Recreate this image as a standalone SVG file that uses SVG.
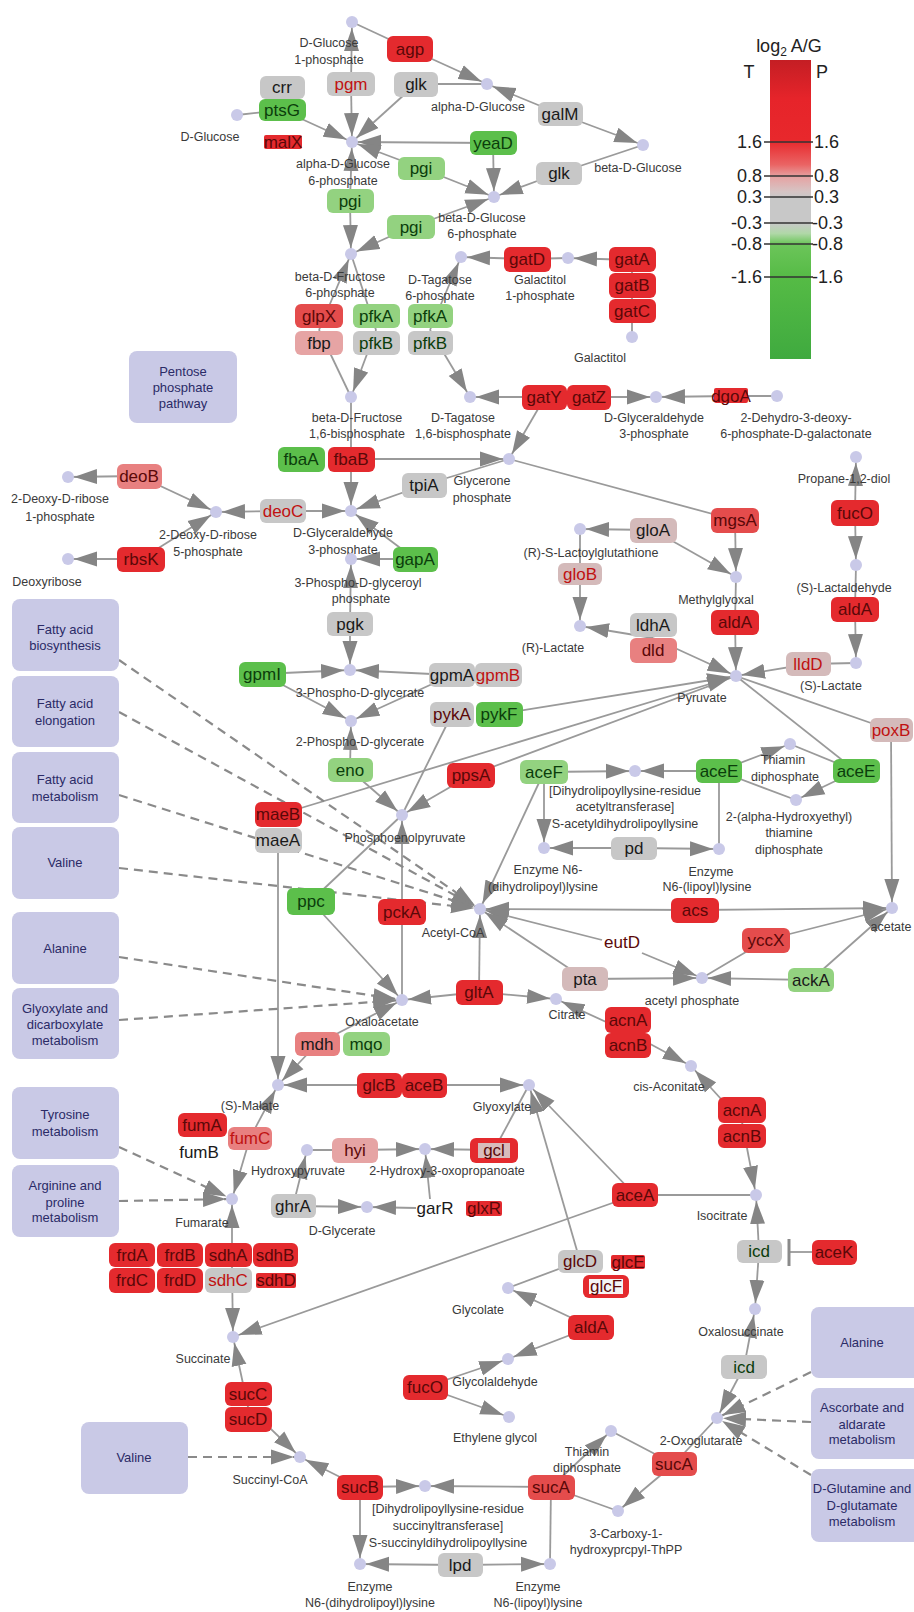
<svg xmlns="http://www.w3.org/2000/svg" width="914" height="1612" viewBox="0 0 914 1612">
<defs>
<marker id="ah" viewBox="0 0 30 16" refX="29" refY="8" markerWidth="30" markerHeight="16" markerUnits="userSpaceOnUse" orient="auto-start-reverse"><path d="M0,0.5 L23,8 L0,15.5 z" fill="#858585"/></marker>
<linearGradient id="lg" x1="0" y1="0" x2="0" y2="1">
<stop offset="0" stop-color="#c41e24"/><stop offset="0.13" stop-color="#e6242a"/><stop offset="0.27" stop-color="#e8282c"/><stop offset="0.35" stop-color="#ea6464"/><stop offset="0.39" stop-color="#e6a2a2"/><stop offset="0.44" stop-color="#d6c4c4"/><stop offset="0.46" stop-color="#c8c8c8"/><stop offset="0.545" stop-color="#c8c8c8"/><stop offset="0.58" stop-color="#b0d8a8"/><stop offset="0.615" stop-color="#6cc55a"/><stop offset="0.73" stop-color="#55bb45"/><stop offset="1" stop-color="#3faa3f"/>
</linearGradient>
<style>
.ln{stroke:#9a9a9a;stroke-width:1.8;fill:none}
.a{marker-end:url(#ah)}
.dl{stroke:#8a8a8a;stroke-width:2.2;stroke-dasharray:9 6;fill:none}
.dot{fill:#c9c9e8}
.lab{font-family:"Liberation Sans",Arial,sans-serif;font-size:12.5px;fill:#3a3a3a;text-anchor:middle}
.gt{font-family:"Liberation Sans",Arial,sans-serif;font-size:17px;text-anchor:middle}
.pw{fill:#c9c9e6}
.pt{font-family:"Liberation Sans",Arial,sans-serif;font-size:13px;fill:#2b2b66;text-anchor:middle}
.lgt{font-family:"Liberation Sans",Arial,sans-serif;font-size:18px;fill:#222}
.R{fill:#e42a2e}.R2{fill:#e44c4c}.P{fill:#e88080}.LP{fill:#e6a4a4}.GP{fill:#d4baba}.Gy{fill:#c7c7c7}.LG{fill:#93d280}.G{fill:#5cbf4b}
.tR{fill:#5a0808}.tG{fill:#0b3d0b}.tK{fill:#1a1a1a}.tr{fill:#c01212}
</style>
</defs>
<rect width="914" height="1612" fill="#ffffff"/>

<g id="connectors">
<line class="ln a" x1="351" y1="84" x2="352" y2="22"/><line class="ln a" x1="351" y1="84" x2="352" y2="142"/>
<line class="ln" x1="352" y1="22" x2="410" y2="49"/><line class="ln a" x1="410" y1="49" x2="487" y2="84"/>
<line class="ln" x1="487" y1="84" x2="416" y2="84"/><line class="ln a" x1="416" y1="84" x2="352" y2="142"/>
<line class="ln a" x1="560" y1="114" x2="487" y2="84"/><line class="ln a" x1="560" y1="114" x2="643" y2="145"/>
<line class="ln" x1="237" y1="115" x2="282" y2="110"/><line class="ln a" x1="282" y1="110" x2="352" y2="142"/>
<line class="ln a" x1="493" y1="143" x2="352" y2="142"/><line class="ln a" x1="493" y1="143" x2="494" y2="197"/>
<line class="ln a" x1="421" y1="168" x2="352" y2="142"/><line class="ln a" x1="421" y1="168" x2="494" y2="197"/>
<line class="ln" x1="643" y1="145" x2="559" y2="173"/><line class="ln a" x1="559" y1="173" x2="494" y2="197"/>
<line class="ln a" x1="350" y1="201" x2="352" y2="142"/><line class="ln a" x1="350" y1="201" x2="351" y2="254"/>
<line class="ln a" x1="411" y1="227" x2="494" y2="197"/><line class="ln a" x1="411" y1="227" x2="351" y2="254"/>
<line class="ln a" x1="319" y1="330" x2="351" y2="254"/><line class="ln" x1="319" y1="330" x2="351" y2="397"/>
<line class="ln" x1="351" y1="254" x2="376" y2="330"/><line class="ln a" x1="376" y1="330" x2="351" y2="397"/>
<line class="ln a" x1="430" y1="330" x2="461" y2="257"/><line class="ln a" x1="430" y1="330" x2="470" y2="397"/>
<line class="ln" x1="568" y1="258" x2="527" y2="259"/><line class="ln a" x1="527" y1="259" x2="461" y2="257"/>
<line class="ln" x1="632" y1="337" x2="632" y2="260"/><line class="ln a" x1="632" y1="260" x2="568" y2="258"/>
<line class="ln a" x1="566" y1="397" x2="470" y2="397"/><line class="ln a" x1="566" y1="397" x2="656" y2="397"/><line class="ln a" x1="545" y1="397" x2="509" y2="459"/>
<line class="ln" x1="777" y1="396" x2="731" y2="396"/><line class="ln a" x1="731" y1="396" x2="656" y2="397"/>
<line class="ln" x1="351" y1="397" x2="351" y2="459"/><line class="ln a" x1="351" y1="459" x2="351" y2="511"/><line class="ln a" x1="351" y1="459" x2="509" y2="459"/>
<line class="ln" x1="509" y1="459" x2="424" y2="485"/><line class="ln a" x1="424" y1="485" x2="351" y2="511"/>
<line class="ln" x1="509" y1="459" x2="735" y2="520"/><line class="ln a" x1="735" y1="520" x2="736" y2="577"/>
<line class="ln a" x1="283" y1="511" x2="351" y2="511"/><line class="ln a" x1="283" y1="511" x2="216" y2="512"/>
<line class="ln a" x1="139" y1="476" x2="68" y2="477"/><line class="ln a" x1="139" y1="476" x2="216" y2="512"/>
<line class="ln a" x1="141" y1="559" x2="68" y2="559"/><line class="ln a" x1="141" y1="559" x2="216" y2="512"/>
<line class="ln a" x1="415" y1="559" x2="351" y2="511"/><line class="ln a" x1="415" y1="559" x2="351" y2="559"/>
<line class="ln a" x1="350" y1="624" x2="351" y2="559"/><line class="ln a" x1="350" y1="624" x2="350" y2="670"/>
<line class="ln a" x1="262" y1="674" x2="350" y2="670"/><line class="ln a" x1="262" y1="674" x2="351" y2="721"/>
<line class="ln a" x1="452" y1="675" x2="350" y2="670"/><line class="ln a" x1="452" y1="675" x2="351" y2="721"/>
<line class="ln a" x1="350" y1="770" x2="351" y2="721"/><line class="ln a" x1="350" y1="770" x2="402" y2="815"/>
<line class="ln" x1="452" y1="714" x2="402" y2="815"/><line class="ln a" x1="500" y1="714" x2="736" y2="676"/>
<line class="ln" x1="736" y1="676" x2="471" y2="775"/><line class="ln a" x1="471" y1="775" x2="402" y2="815"/>
<line class="ln a" x1="278" y1="815" x2="736" y2="676"/>
<line class="ln a" x1="278" y1="840" x2="278" y2="1085"/>
<line class="ln" x1="402" y1="815" x2="311" y2="901"/><line class="ln a" x1="311" y1="901" x2="402" y2="1000"/>
<line class="ln" x1="402" y1="1000" x2="402" y2="912"/><line class="ln a" x1="402" y1="912" x2="402" y2="815"/>
<line class="ln a" x1="653" y1="530" x2="580" y2="529"/><line class="ln a" x1="653" y1="530" x2="736" y2="577"/>
<line class="ln" x1="580" y1="529" x2="580" y2="574"/><line class="ln a" x1="580" y1="574" x2="580" y2="626"/>
<line class="ln a" x1="653" y1="638" x2="580" y2="626"/><line class="ln a" x1="653" y1="638" x2="736" y2="676"/>
<line class="ln" x1="736" y1="577" x2="735" y2="622"/><line class="ln a" x1="735" y1="622" x2="736" y2="676"/>
<line class="ln a" x1="855" y1="513" x2="856" y2="457"/><line class="ln a" x1="855" y1="513" x2="856" y2="565"/>
<line class="ln" x1="856" y1="565" x2="855" y2="609"/><line class="ln a" x1="855" y1="609" x2="856" y2="663"/>
<line class="ln" x1="856" y1="663" x2="808" y2="664"/><line class="ln a" x1="808" y1="664" x2="736" y2="676"/>
<line class="ln a" x1="544" y1="772" x2="635" y2="771"/><line class="ln a" x1="544" y1="772" x2="544" y2="848"/><line class="ln a" x1="544" y1="772" x2="480" y2="909"/>
<line class="ln a" x1="719" y1="771" x2="635" y2="771"/><line class="ln a" x1="719" y1="771" x2="790" y2="744"/><line class="ln" x1="796" y1="800" x2="719" y2="771"/><line class="ln" x1="719" y1="771" x2="719" y2="849"/>
<line class="ln" x1="736" y1="676" x2="856" y2="771"/><line class="ln" x1="790" y1="744" x2="856" y2="771"/><line class="ln a" x1="856" y1="771" x2="796" y2="800"/>
<line class="ln a" x1="634" y1="848" x2="544" y2="848"/><line class="ln a" x1="634" y1="848" x2="719" y2="849"/>
<line class="ln" x1="736" y1="676" x2="891" y2="730"/><line class="ln a" x1="891" y1="730" x2="892" y2="908"/>
<line class="ln a" x1="695" y1="910" x2="480" y2="909"/><line class="ln a" x1="695" y1="910" x2="892" y2="908"/>
<line class="ln a" x1="602" y1="940" x2="480" y2="909"/><line class="ln a" x1="642" y1="953" x2="702" y2="978"/>
<line class="ln a" x1="585" y1="979" x2="480" y2="909"/><line class="ln a" x1="585" y1="979" x2="702" y2="978"/>
<line class="ln" x1="766" y1="940" x2="702" y2="978"/><line class="ln a" x1="766" y1="940" x2="892" y2="908"/>
<line class="ln a" x1="811" y1="980" x2="702" y2="978"/><line class="ln a" x1="811" y1="980" x2="892" y2="908"/>
<line class="ln a" x1="479" y1="992" x2="402" y2="1000"/><line class="ln a" x1="479" y1="992" x2="556" y2="999"/><line class="ln a" x1="479" y1="992" x2="480" y2="909"/>
<line class="ln a" x1="628" y1="1032" x2="556" y2="999"/><line class="ln a" x1="628" y1="1032" x2="691" y2="1066"/>
<line class="ln a" x1="742" y1="1122" x2="691" y2="1066"/><line class="ln a" x1="742" y1="1122" x2="756" y2="1195"/>
<line class="ln" x1="756" y1="1195" x2="635" y2="1195"/><line class="ln a" x1="635" y1="1195" x2="529" y2="1085"/><line class="ln a" x1="635" y1="1195" x2="233" y2="1337"/>
<line class="ln a" x1="402" y1="1085" x2="529" y2="1085"/><line class="ln a" x1="402" y1="1085" x2="278" y2="1085"/>
<line class="ln a" x1="317" y1="1044" x2="402" y2="1000"/><line class="ln a" x1="317" y1="1044" x2="278" y2="1085"/>
<line class="ln a" x1="250" y1="1138" x2="278" y2="1085"/><line class="ln a" x1="250" y1="1138" x2="232" y2="1199"/>
<line class="ln a" x1="232" y1="1268" x2="232" y2="1199"/><line class="ln a" x1="232" y1="1268" x2="233" y2="1337"/>
<line class="ln a" x1="248" y1="1407" x2="233" y2="1337"/><line class="ln a" x1="248" y1="1407" x2="300" y2="1457"/>
<line class="ln a" x1="360" y1="1487" x2="300" y2="1457"/><line class="ln a" x1="360" y1="1487" x2="425" y2="1486"/><line class="ln a" x1="360" y1="1487" x2="360" y2="1564"/>
<line class="ln a" x1="551" y1="1487" x2="425" y2="1486"/><line class="ln" x1="551" y1="1487" x2="550" y2="1564"/><line class="ln" x1="551" y1="1487" x2="618" y2="1511"/><line class="ln a" x1="551" y1="1487" x2="611" y2="1431"/>
<line class="ln" x1="717" y1="1418" x2="674" y2="1464"/><line class="ln" x1="611" y1="1431" x2="674" y2="1464"/><line class="ln a" x1="674" y1="1464" x2="618" y2="1511"/>
<line class="ln a" x1="460" y1="1565" x2="360" y2="1564"/><line class="ln a" x1="460" y1="1565" x2="550" y2="1564"/>
<line class="ln a" x1="759" y1="1251" x2="756" y2="1195"/><line class="ln a" x1="759" y1="1251" x2="755" y2="1309"/>
<line class="ln" x1="812" y1="1252" x2="789" y2="1252"/><line x1="789" y1="1239" x2="789" y2="1266" stroke="#8a8a8a" stroke-width="3"/>
<line class="ln a" x1="744" y1="1367" x2="755" y2="1309"/><line class="ln a" x1="744" y1="1367" x2="717" y2="1418"/>
<line class="ln" x1="307" y1="1150" x2="355" y2="1150"/><line class="ln a" x1="355" y1="1150" x2="425" y2="1149"/>
<line class="ln" x1="494" y1="1150" x2="529" y2="1085"/><line class="ln a" x1="494" y1="1150" x2="425" y2="1149"/>
<line class="ln a" x1="430" y1="1199" x2="425" y2="1149"/><line class="ln a" x1="416" y1="1208" x2="367" y2="1207"/>
<line class="ln a" x1="293" y1="1206" x2="307" y2="1150"/><line class="ln a" x1="293" y1="1206" x2="367" y2="1207"/>
<line class="ln" x1="508" y1="1288" x2="580" y2="1261"/><line class="ln a" x1="580" y1="1261" x2="529" y2="1085"/>
<line class="ln a" x1="591" y1="1327" x2="508" y2="1288"/><line class="ln a" x1="591" y1="1327" x2="508" y2="1359"/>
<line class="ln a" x1="425" y1="1387" x2="508" y2="1359"/><line class="ln a" x1="425" y1="1387" x2="509" y2="1417"/>
<line class="dl a" x1="119" y1="660" x2="480" y2="909"/>
<line class="dl a" x1="119" y1="712" x2="480" y2="909"/>
<line class="dl a" x1="119" y1="795" x2="480" y2="909"/>
<line class="dl a" x1="119" y1="868" x2="480" y2="909"/>
<line class="dl a" x1="119" y1="957" x2="402" y2="1000"/>
<line class="dl a" x1="119" y1="1020" x2="402" y2="1000"/>
<line class="dl a" x1="119" y1="1147" x2="232" y2="1199"/>
<line class="dl a" x1="119" y1="1201" x2="232" y2="1199"/>
<line class="dl a" x1="188" y1="1457" x2="300" y2="1457"/>
<line class="dl a" x1="811" y1="1372" x2="717" y2="1418"/>
<line class="dl a" x1="811" y1="1422" x2="717" y2="1418"/>
<line class="dl a" x1="811" y1="1475" x2="717" y2="1418"/>
</g>

<g id="legend">
<text class="lgt" x="789" y="52" text-anchor="middle">log<tspan font-size="12" dy="4">2</tspan><tspan dy="-4"> A/G</tspan></text>
<text class="lgt" x="749" y="78" text-anchor="middle">T</text>
<text class="lgt" x="822" y="78" text-anchor="middle">P</text>
<rect x="770" y="60" width="41" height="299" fill="url(#lg)"/>
<g stroke="#333" stroke-width="1.5">
<line x1="764" y1="142" x2="813" y2="142"/><line x1="764" y1="176" x2="813" y2="176"/><line x1="764" y1="197" x2="813" y2="197"/><line x1="764" y1="223" x2="813" y2="223"/><line x1="764" y1="244" x2="813" y2="244"/><line x1="764" y1="277" x2="813" y2="277"/>
</g>
<g class="lgt" text-anchor="end">
<text x="762" y="148">1.6</text><text x="762" y="182">0.8</text><text x="762" y="203">0.3</text><text x="762" y="229">-0.3</text><text x="762" y="250">-0.8</text><text x="762" y="283">-1.6</text>
</g>
<g class="lgt">
<text x="814" y="148">1.6</text><text x="814" y="182">0.8</text><text x="814" y="203">0.3</text><text x="812" y="229">-0.3</text><text x="812" y="250">-0.8</text><text x="812" y="283">-1.6</text>
</g>
</g>

<g id="pathways">
<g id="pw_ppp"><rect class="pw" x="129" y="351" width="108" height="72" rx="8"/><text class="pt" x="183" y="376">Pentose</text><text class="pt" x="183" y="392">phosphate</text><text class="pt" x="183" y="408">pathway</text></g>
<g id="pw_fab"><rect class="pw" x="12" y="599" width="107" height="72" rx="8"/><text class="pt" x="65" y="634">Fatty acid</text><text class="pt" x="65" y="650">biosynthesis</text></g>
<g id="pw_fae"><rect class="pw" x="12" y="676" width="107" height="71" rx="8"/><text class="pt" x="65" y="708">Fatty acid</text><text class="pt" x="65" y="725">elongation</text></g>
<g id="pw_fam"><rect class="pw" x="12" y="752" width="107" height="71" rx="8"/><text class="pt" x="65" y="784">Fatty acid</text><text class="pt" x="65" y="801">metabolism</text></g>
<g id="pw_val"><rect class="pw" x="12" y="827" width="107" height="72" rx="8"/><text class="pt" x="65" y="867">Valine</text></g>
<g id="pw_ala"><rect class="pw" x="12" y="912" width="107" height="72" rx="8"/><text class="pt" x="65" y="953">Alanine</text></g>
<g id="pw_glx"><rect class="pw" x="12" y="988" width="107" height="71" rx="8"/><text class="pt" x="65" y="1013">Glyoxylate and</text><text class="pt" x="65" y="1029">dicarboxylate</text><text class="pt" x="65" y="1045">metabolism</text></g>
<g id="pw_tyr"><rect class="pw" x="12" y="1087" width="107" height="72" rx="8"/><text class="pt" x="65" y="1119">Tyrosine</text><text class="pt" x="65" y="1136">metabolism</text></g>
<g id="pw_arg"><rect class="pw" x="12" y="1165" width="107" height="72" rx="8"/><text class="pt" x="65" y="1190">Arginine and</text><text class="pt" x="65" y="1207">proline</text><text class="pt" x="65" y="1222">metabolism</text></g>
<g id="pw_val2"><rect class="pw" x="81" y="1422" width="107" height="72" rx="8"/><text class="pt" x="134" y="1462">Valine</text></g>
<g id="pw_ala2"><rect class="pw" x="811" y="1307" width="112" height="71" rx="8"/><text class="pt" x="862" y="1347">Alanine</text></g>
<g id="pw_asc"><rect class="pw" x="811" y="1388" width="112" height="71" rx="8"/><text class="pt" x="862" y="1412">Ascorbate and</text><text class="pt" x="862" y="1429">aldarate</text><text class="pt" x="862" y="1444">metabolism</text></g>
<g id="pw_gln"><rect class="pw" x="811" y="1469" width="112" height="73" rx="8"/><text class="pt" x="862" y="1493">D-Glutamine and</text><text class="pt" x="862" y="1510">D-glutamate</text><text class="pt" x="862" y="1526">metabolism</text></g>
</g>

<g id="metabolites">
<g id="m_g1p"><circle class="dot" cx="352" cy="22" r="6"/><text class="lab" x="329" y="47">D-Glucose</text><text class="lab" x="329" y="64">1-phosphate</text></g>
<g id="m_aglc"><circle class="dot" cx="487" cy="84" r="6"/><text class="lab" x="478" y="111">alpha-D-Glucose</text></g>
<g id="m_bglc"><circle class="dot" cx="643" cy="145" r="6"/><text class="lab" x="638" y="172">beta-D-Glucose</text></g>
<g id="m_glc"><circle class="dot" cx="237" cy="115" r="6"/><text class="lab" x="210" y="141">D-Glucose</text></g>
<g id="m_ag6p"><circle class="dot" cx="352" cy="142" r="6"/><text class="lab" x="343" y="168">alpha-D-Glucose</text><text class="lab" x="343" y="185">6-phosphate</text></g>
<g id="m_bg6p"><circle class="dot" cx="494" cy="197" r="6"/><text class="lab" x="482" y="222">beta-D-Glucose</text><text class="lab" x="482" y="238">6-phosphate</text></g>
<g id="m_f6p"><circle class="dot" cx="351" cy="254" r="6"/><text class="lab" x="340" y="281">beta-D-Fructose</text><text class="lab" x="340" y="297">6-phosphate</text></g>
<g id="m_t6p"><circle class="dot" cx="461" cy="257" r="6"/><text class="lab" x="440" y="284">D-Tagatose</text><text class="lab" x="440" y="300">6-phosphate</text></g>
<g id="m_gal1p"><circle class="dot" cx="568" cy="258" r="6"/><text class="lab" x="540" y="284">Galactitol</text><text class="lab" x="540" y="300">1-phosphate</text></g>
<g id="m_galtol"><circle class="dot" cx="632" cy="337" r="6"/><text class="lab" x="600" y="362">Galactitol</text></g>
<g id="m_fbp"><circle class="dot" cx="351" cy="397" r="6"/><text class="lab" x="357" y="422">beta-D-Fructose</text><text class="lab" x="357" y="438">1,6-bisphosphate</text></g>
<g id="m_t16bp"><circle class="dot" cx="470" cy="397" r="6"/><text class="lab" x="463" y="422">D-Tagatose</text><text class="lab" x="463" y="438">1,6-bisphosphate</text></g>
<g id="m_ga3pr"><circle class="dot" cx="656" cy="397" r="6"/><text class="lab" x="654" y="422">D-Glyceraldehyde</text><text class="lab" x="654" y="438">3-phosphate</text></g>
<g id="m_kdpg"><circle class="dot" cx="777" cy="396" r="6"/><text class="lab" x="796" y="422">2-Dehydro-3-deoxy-</text><text class="lab" x="796" y="438">6-phosphate-D-galactonate</text></g>
<g id="m_dhap"><circle class="dot" cx="509" cy="459" r="6"/><text class="lab" x="482" y="485">Glycerone</text><text class="lab" x="482" y="502">phosphate</text></g>
<g id="m_ga3p"><circle class="dot" cx="351" cy="511" r="6"/><text class="lab" x="343" y="537">D-Glyceraldehyde</text><text class="lab" x="343" y="554">3-phosphate</text></g>
<g id="m_dr1p"><circle class="dot" cx="68" cy="477" r="6"/><text class="lab" x="60" y="503">2-Deoxy-D-ribose</text><text class="lab" x="60" y="521">1-phosphate</text></g>
<g id="m_dr5p"><circle class="dot" cx="216" cy="512" r="6"/><text class="lab" x="208" y="539">2-Deoxy-D-ribose</text><text class="lab" x="208" y="556">5-phosphate</text></g>
<g id="m_dr"><circle class="dot" cx="68" cy="559" r="6"/><text class="lab" x="47" y="586">Deoxyribose</text></g>
<g id="m_bpg"><circle class="dot" cx="351" cy="559" r="6"/><text class="lab" x="358" y="587">3-Phospho-D-glyceroyl</text><text class="lab" x="361" y="603">phosphate</text></g>
<g id="m_3pg"><circle class="dot" cx="350" cy="670" r="6"/><text class="lab" x="360" y="697">3-Phospho-D-glycerate</text></g>
<g id="m_2pg"><circle class="dot" cx="351" cy="721" r="6"/><text class="lab" x="360" y="746">2-Phospho-D-glycerate</text></g>
<g id="m_pep"><circle class="dot" cx="402" cy="815" r="6"/><text class="lab" x="405" y="842">Phosphoenolpyruvate</text></g>
<g id="m_rslg"><circle class="dot" cx="580" cy="529" r="6"/><text class="lab" x="591" y="557">(R)-S-Lactoylglutathione</text></g>
<g id="m_rlac"><circle class="dot" cx="580" cy="626" r="6"/><text class="lab" x="553" y="652">(R)-Lactate</text></g>
<g id="m_mg"><circle class="dot" cx="736" cy="577" r="6"/><text class="lab" x="716" y="604">Methylglyoxal</text></g>
<g id="m_pyr"><circle class="dot" cx="736" cy="676" r="6"/><text class="lab" x="702" y="702">Pyruvate</text></g>
<g id="m_p12d"><circle class="dot" cx="856" cy="457" r="6"/><text class="lab" x="844" y="483">Propane-1,2-diol</text></g>
<g id="m_slald"><circle class="dot" cx="856" cy="565" r="6"/><text class="lab" x="844" y="592">(S)-Lactaldehyde</text></g>
<g id="m_slac"><circle class="dot" cx="856" cy="663" r="6"/><text class="lab" x="831" y="690">(S)-Lactate</text></g>
<g id="m_tdp"><circle class="dot" cx="790" cy="744" r="6"/><text class="lab" x="783" y="764">Thiamin</text><text class="lab" x="785" y="781">diphosphate</text></g>
<g id="m_hetpp"><circle class="dot" cx="796" cy="800" r="6"/><text class="lab" x="789" y="821">2-(alpha-Hydroxyethyl)</text><text class="lab" x="789" y="837">thiamine</text><text class="lab" x="789" y="854">diphosphate</text></g>
<g id="m_sadl"><circle class="dot" cx="635" cy="771" r="6"/><text class="lab" x="625" y="795">[Dihydrolipoyllysine-residue</text><text class="lab" x="625" y="811">acetyltransferase]</text><text class="lab" x="625" y="828">S-acetyldihydrolipoyllysine</text></g>
<g id="m_dhl"><circle class="dot" cx="544" cy="848" r="6"/><text class="lab" x="548" y="874">Enzyme N6-</text><text class="lab" x="543" y="891">(dihydrolipoyl)lysine</text></g>
<g id="m_lip"><circle class="dot" cx="719" cy="849" r="6"/><text class="lab" x="711" y="876">Enzyme</text><text class="lab" x="707" y="891">N6-(lipoyl)lysine</text></g>
<g id="m_accoa"><circle class="dot" cx="480" cy="909" r="6"/><text class="lab" x="453" y="937">Acetyl-CoA</text></g>
<g id="m_ace"><circle class="dot" cx="892" cy="908" r="6"/><text class="lab" x="891" y="931">acetate</text></g>
<g id="m_acp"><circle class="dot" cx="702" cy="978" r="6"/><text class="lab" x="692" y="1005">acetyl phosphate</text></g>
<g id="m_oaa"><circle class="dot" cx="402" cy="1000" r="6"/><text class="lab" x="382" y="1026">Oxaloacetate</text></g>
<g id="m_cit"><circle class="dot" cx="556" cy="999" r="6"/><text class="lab" x="567" y="1019">Citrate</text></g>
<g id="m_cisacn"><circle class="dot" cx="691" cy="1066" r="6"/><text class="lab" x="669" y="1091">cis-Aconitate</text></g>
<g id="m_icit"><circle class="dot" cx="756" cy="1195" r="6"/><text class="lab" x="722" y="1220">Isocitrate</text></g>
<g id="m_glx"><circle class="dot" cx="529" cy="1085" r="6"/><text class="lab" x="502" y="1111">Glyoxylate</text></g>
<g id="m_mal"><circle class="dot" cx="278" cy="1085" r="6"/><text class="lab" x="250" y="1110">(S)-Malate</text></g>
<g id="m_hpyr"><circle class="dot" cx="307" cy="1150" r="6"/><text class="lab" x="298" y="1175">Hydroxypyruvate</text></g>
<g id="m_2h3op"><circle class="dot" cx="425" cy="1149" r="6"/><text class="lab" x="447" y="1175">2-Hydroxy-3-oxopropanoate</text></g>
<g id="m_dglyc"><circle class="dot" cx="367" cy="1207" r="6"/><text class="lab" x="342" y="1235">D-Glycerate</text></g>
<g id="m_fum"><circle class="dot" cx="232" cy="1199" r="6"/><text class="lab" x="202" y="1227">Fumarate</text></g>
<g id="m_succ"><circle class="dot" cx="233" cy="1337" r="6"/><text class="lab" x="203" y="1363">Succinate</text></g>
<g id="m_oxs"><circle class="dot" cx="755" cy="1309" r="6"/><text class="lab" x="741" y="1336">Oxalosuccinate</text></g>
<g id="m_2og"><circle class="dot" cx="717" cy="1418" r="6"/><text class="lab" x="701" y="1445">2-Oxoglutarate</text></g>
<g id="m_glyc"><circle class="dot" cx="508" cy="1288" r="6"/><text class="lab" x="478" y="1314">Glycolate</text></g>
<g id="m_glyald"><circle class="dot" cx="508" cy="1359" r="6"/><text class="lab" x="495" y="1386">Glycolaldehyde</text></g>
<g id="m_eg"><circle class="dot" cx="509" cy="1417" r="6"/><text class="lab" x="495" y="1442">Ethylene glycol</text></g>
<g id="m_scoa"><circle class="dot" cx="300" cy="1457" r="6"/><text class="lab" x="270" y="1484">Succinyl-CoA</text></g>
<g id="m_ssdl"><circle class="dot" cx="425" cy="1486" r="6"/><text class="lab" x="448" y="1513">[Dihydrolipoyllysine-residue</text><text class="lab" x="448" y="1530">succinyltransferase]</text><text class="lab" x="448" y="1547">S-succinyldihydrolipoyllysine</text></g>
<g id="m_tdp2"><circle class="dot" cx="611" cy="1431" r="6"/><text class="lab" x="587" y="1456">Thiamin</text><text class="lab" x="587" y="1472">diphosphate</text></g>
<g id="m_3c"><circle class="dot" cx="618" cy="1511" r="6"/><text class="lab" x="626" y="1538">3-Carboxy-1-</text><text class="lab" x="626" y="1554">hydroxyprcpyl-ThPP</text></g>
<g id="m_dhl2"><circle class="dot" cx="360" cy="1564" r="6"/><text class="lab" x="370" y="1591">Enzyme</text><text class="lab" x="370" y="1607">N6-(dihydrolipoyl)lysine</text></g>
<g id="m_lip2"><circle class="dot" cx="550" cy="1564" r="6"/><text class="lab" x="538" y="1591">Enzyme</text><text class="lab" x="538" y="1607">N6-(lipoyl)lysine</text></g>
</g>

<g id="genes">
<g id="g_agp"><rect class="R" x="387" y="36" width="46" height="26" rx="6"/><text class="gt tR" x="410" y="55">agp</text></g>
<g id="g_pgm"><rect class="Gy" x="327" y="72" width="48" height="24" rx="6"/><text class="gt tr" x="351" y="90">pgm</text></g>
<g id="g_glk1"><rect class="Gy" x="394" y="72" width="44" height="25" rx="6"/><text class="gt tK" x="416" y="90">glk</text></g>
<g id="g_galM"><rect class="Gy" x="538" y="102" width="45" height="24" rx="6"/><text class="gt tK" x="560" y="120">galM</text></g>
<g id="g_crr"><rect class="Gy" x="260" y="76" width="45" height="23" rx="6"/><text class="gt tK" x="282" y="93">crr</text></g>
<g id="g_ptsG"><rect class="G" x="259" y="99" width="47" height="22" rx="6"/><text class="gt tG" x="282" y="116">ptsG</text></g>
<g id="g_malX"><rect class="R" x="264" y="135" width="38" height="14" rx="2"/><text class="gt tR" x="283" y="148" font-size="16">malX</text></g>
<g id="g_yeaD"><rect class="G" x="470" y="131" width="47" height="24" rx="6"/><text class="gt tG" x="493" y="149">yeaD</text></g>
<g id="g_pgi1"><rect class="LG" x="398" y="157" width="47" height="23" rx="6"/><text class="gt tG" x="421" y="174">pgi</text></g>
<g id="g_glk2"><rect class="Gy" x="536" y="162" width="46" height="23" rx="6"/><text class="gt tK" x="559" y="179">glk</text></g>
<g id="g_pgi2"><rect class="LG" x="327" y="189" width="47" height="24" rx="6"/><text class="gt tG" x="350" y="207">pgi</text></g>
<g id="g_pgi3"><rect class="LG" x="387" y="215" width="48" height="24" rx="6"/><text class="gt tG" x="411" y="233">pgi</text></g>
<g id="g_gatD"><rect class="R" x="504" y="247" width="47" height="25" rx="6"/><text class="gt tR" x="527" y="265">gatD</text></g>
<g id="g_gatA"><rect class="R" x="609" y="247" width="47" height="25" rx="6"/><text class="gt tR" x="632" y="265">gatA</text></g>
<g id="g_gatB"><rect class="R" x="609" y="273" width="47" height="25" rx="6"/><text class="gt tR" x="632" y="291">gatB</text></g>
<g id="g_gatC"><rect class="R" x="609" y="299" width="47" height="24" rx="6"/><text class="gt tR" x="632" y="317">gatC</text></g>
<g id="g_glpX"><rect class="R2" x="295" y="304" width="48" height="24" rx="6"/><text class="gt tR" x="319" y="322">glpX</text></g>
<g id="g_fbp"><rect class="LP" x="295" y="331" width="48" height="24" rx="6"/><text class="gt tK" x="319" y="349">fbp</text></g>
<g id="g_pfkA1"><rect class="LG" x="353" y="304" width="47" height="24" rx="6"/><text class="gt tG" x="376" y="322">pfkA</text></g>
<g id="g_pfkB1"><rect class="Gy" x="353" y="331" width="47" height="24" rx="6"/><text class="gt tG" x="376" y="349">pfkB</text></g>
<g id="g_pfkA2"><rect class="LG" x="408" y="304" width="45" height="24" rx="6"/><text class="gt tG" x="430" y="322">pfkA</text></g>
<g id="g_pfkB2"><rect class="Gy" x="408" y="331" width="45" height="24" rx="6"/><text class="gt tG" x="430" y="349">pfkB</text></g>
<g id="g_gatY"><rect class="R" x="522" y="385" width="45" height="25" rx="6"/><text class="gt tR" x="544" y="403">gatY</text></g>
<g id="g_gatZ"><rect class="R" x="567" y="385" width="44" height="25" rx="6"/><text class="gt tR" x="589" y="403">gatZ</text></g>
<g id="g_dgoA"><rect class="R" x="714" y="388" width="34" height="15" rx="2"/><text class="gt tR" x="731" y="402" font-size="16">dgoA</text></g>
<g id="g_fbaA"><rect class="G" x="278" y="447" width="47" height="25" rx="6"/><text class="gt tG" x="301" y="465">fbaA</text></g>
<g id="g_fbaB"><rect class="R" x="328" y="447" width="47" height="25" rx="6"/><text class="gt tR" x="351" y="465">fbaB</text></g>
<g id="g_tpiA"><rect class="Gy" x="402" y="473" width="45" height="25" rx="6"/><text class="gt tK" x="424" y="491">tpiA</text></g>
<g id="g_deoC"><rect class="Gy" x="260" y="499" width="46" height="24" rx="6"/><text class="gt tr" x="283" y="517">deoC</text></g>
<g id="g_deoB"><rect class="P" x="117" y="464" width="45" height="25" rx="6"/><text class="gt tR" x="139" y="482">deoB</text></g>
<g id="g_rbsK"><rect class="R" x="117" y="547" width="48" height="25" rx="6"/><text class="gt tR" x="141" y="565">rbsK</text></g>
<g id="g_gapA"><rect class="G" x="393" y="547" width="45" height="25" rx="6"/><text class="gt tG" x="415" y="565">gapA</text></g>
<g id="g_pgk"><rect class="Gy" x="327" y="612" width="46" height="24" rx="6"/><text class="gt tK" x="350" y="630">pgk</text></g>
<g id="g_gpmI"><rect class="G" x="239" y="662" width="47" height="25" rx="6"/><text class="gt tG" x="262" y="680">gpmI</text></g>
<g id="g_gpmA"><rect class="Gy" x="429" y="663" width="46" height="24" rx="6"/><text class="gt tK" x="452" y="681">gpmA</text></g>
<g id="g_gpmB"><rect class="Gy" x="475" y="663" width="47" height="24" rx="6"/><text class="gt tr" x="498" y="681">gpmB</text></g>
<g id="g_pykA"><rect class="Gy" x="430" y="702" width="44" height="25" rx="6"/><text class="gt tR" x="452" y="720">pykA</text></g>
<g id="g_pykF"><rect class="G" x="476" y="702" width="47" height="25" rx="6"/><text class="gt tG" x="499" y="720">pykF</text></g>
<g id="g_eno"><rect class="LG" x="328" y="758" width="45" height="24" rx="6"/><text class="gt tG" x="350" y="776">eno</text></g>
<g id="g_ppsA"><rect class="R" x="447" y="763" width="48" height="25" rx="6"/><text class="gt tR" x="471" y="781">ppsA</text></g>
<g id="g_aceF"><rect class="LG" x="520" y="760" width="48" height="24" rx="6"/><text class="gt tG" x="544" y="778">aceF</text></g>
<g id="g_aceE1"><rect class="G" x="696" y="759" width="46" height="24" rx="6"/><text class="gt tG" x="719" y="777">aceE</text></g>
<g id="g_aceE2"><rect class="G" x="833" y="759" width="47" height="24" rx="6"/><text class="gt tG" x="856" y="777">aceE</text></g>
<g id="g_pd"><rect class="Gy" x="611" y="837" width="46" height="23" rx="6"/><text class="gt tK" x="634" y="854">pd</text></g>
<g id="g_gloA"><rect class="GP" x="630" y="518" width="47" height="25" rx="6"/><text class="gt tK" x="653" y="536">gloA</text></g>
<g id="g_gloB"><rect class="GP" x="558" y="563" width="44" height="22" rx="6"/><text class="gt tr" x="580" y="580">gloB</text></g>
<g id="g_mgsA"><rect class="R2" x="711" y="508" width="48" height="25" rx="6"/><text class="gt tR" x="735" y="526">mgsA</text></g>
<g id="g_ldhA"><rect class="Gy" x="630" y="613" width="47" height="24" rx="6"/><text class="gt tK" x="653" y="631">ldhA</text></g>
<g id="g_dld"><rect class="P" x="630" y="638" width="47" height="25" rx="6"/><text class="gt tR" x="653" y="656">dld</text></g>
<g id="g_aldA1"><rect class="R" x="711" y="610" width="48" height="25" rx="6"/><text class="gt tR" x="735" y="628">aldA</text></g>
<g id="g_fucO1"><rect class="R" x="831" y="500" width="48" height="26" rx="6"/><text class="gt tR" x="855" y="519">fucO</text></g>
<g id="g_aldA2"><rect class="R" x="831" y="597" width="48" height="25" rx="6"/><text class="gt tR" x="855" y="615">aldA</text></g>
<g id="g_lldD"><rect class="GP" x="786" y="652" width="45" height="24" rx="6"/><text class="gt tr" x="808" y="670">lldD</text></g>
<g id="g_poxB"><rect class="GP" x="870" y="718" width="43" height="24" rx="6"/><text class="gt tr" x="891" y="736">poxB</text></g>
<g id="g_maeB"><rect class="R" x="255" y="802" width="47" height="25" rx="6"/><text class="gt tR" x="278" y="820">maeB</text></g>
<g id="g_maeA"><rect class="Gy" x="255" y="828" width="47" height="25" rx="6"/><text class="gt tK" x="278" y="846">maeA</text></g>
<g id="g_ppc"><rect class="G" x="287" y="888" width="48" height="27" rx="6"/><text class="gt tG" x="311" y="907">ppc</text></g>
<g id="g_pckA"><rect class="R" x="378" y="899" width="48" height="26" rx="6"/><text class="gt tR" x="402" y="918">pckA</text></g>
<g id="g_acs"><rect class="R" x="671" y="898" width="48" height="25" rx="6"/><text class="gt tR" x="695" y="916">acs</text></g>
<g id="g_eutD"><text class="gt tR" x="622" y="948">eutD</text></g>
<g id="g_yccX"><rect class="R2" x="742" y="928" width="48" height="25" rx="6"/><text class="gt tR" x="766" y="946">yccX</text></g>
<g id="g_ackA"><rect class="LG" x="788" y="968" width="46" height="24" rx="6"/><text class="gt tK" x="811" y="986">ackA</text></g>
<g id="g_pta"><rect class="GP" x="562" y="967" width="46" height="24" rx="6"/><text class="gt tK" x="585" y="985">pta</text></g>
<g id="g_gltA"><rect class="R" x="456" y="980" width="47" height="25" rx="6"/><text class="gt tR" x="479" y="998">gltA</text></g>
<g id="g_acnA1"><rect class="R" x="605" y="1007" width="46" height="26" rx="6"/><text class="gt tR" x="628" y="1026">acnA</text></g>
<g id="g_acnB1"><rect class="R" x="605" y="1033" width="46" height="25" rx="6"/><text class="gt tR" x="628" y="1051">acnB</text></g>
<g id="g_acnA2"><rect class="R" x="718" y="1097" width="48" height="26" rx="6"/><text class="gt tR" x="742" y="1116">acnA</text></g>
<g id="g_acnB2"><rect class="R" x="718" y="1124" width="48" height="24" rx="6"/><text class="gt tR" x="742" y="1142">acnB</text></g>
<g id="g_mdh"><rect class="P" x="295" y="1032" width="45" height="24" rx="6"/><text class="gt tK" x="317" y="1050">mdh</text></g>
<g id="g_mqo"><rect class="LG" x="343" y="1032" width="47" height="24" rx="6"/><text class="gt tG" x="366" y="1050">mqo</text></g>
<g id="g_glcB"><rect class="R" x="357" y="1073" width="45" height="25" rx="6"/><text class="gt tR" x="379" y="1091">glcB</text></g>
<g id="g_aceB"><rect class="R" x="402" y="1073" width="45" height="25" rx="6"/><text class="gt tR" x="424" y="1091">aceB</text></g>
<g id="g_fumA"><rect class="R" x="178" y="1113" width="49" height="24" rx="6"/><text class="gt tR" x="202" y="1131">fumA</text></g>
<g id="g_fumC"><rect class="P" x="228" y="1127" width="44" height="23" rx="6"/><text class="gt tr" x="250" y="1144">fumC</text></g>
<g id="g_fumB"><text class="gt tK" x="199" y="1158">fumB</text></g>
<g id="g_hyi"><rect class="LP" x="332" y="1138" width="46" height="25" rx="6"/><text class="gt tR" x="355" y="1156">hyi</text></g>
<g id="g_gcl"><rect class="R" x="470" y="1138" width="48" height="25" rx="6"/><rect x="478" y="1143" width="32" height="15" fill="#d8bcbc"/><text class="gt tR" x="494" y="1156">gcl</text></g>
<g id="g_ghrA"><rect class="Gy" x="271" y="1194" width="45" height="24" rx="6"/><text class="gt tK" x="293" y="1212">ghrA</text></g>
<g id="g_garR"><text class="gt tK" x="435" y="1214">garR</text></g>
<g id="g_glxR"><rect class="R" x="466" y="1201" width="36" height="15" rx="2"/><text class="gt tR" x="484" y="1214" font-size="16">glxR</text></g>
<g id="g_aceA"><rect class="R" x="612" y="1183" width="46" height="24" rx="6"/><text class="gt tR" x="635" y="1201">aceA</text></g>
<g id="g_icd1"><rect class="Gy" x="737" y="1240" width="45" height="23" rx="6"/><text class="gt tG" x="759" y="1257">icd</text></g>
<g id="g_aceK"><rect class="R" x="812" y="1240" width="45" height="25" rx="6"/><text class="gt tR" x="834" y="1258">aceK</text></g>
<g id="g_icd2"><rect class="Gy" x="721" y="1355" width="46" height="24" rx="6"/><text class="gt tG" x="744" y="1373">icd</text></g>
<g id="g_frdA"><rect class="R" x="109" y="1243" width="46" height="24" rx="6"/><text class="gt tR" x="132" y="1261">frdA</text></g>
<g id="g_frdB"><rect class="R" x="157" y="1243" width="46" height="24" rx="6"/><text class="gt tR" x="180" y="1261">frdB</text></g>
<g id="g_sdhA"><rect class="R" x="205" y="1243" width="47" height="24" rx="6"/><text class="gt tR" x="228" y="1261">sdhA</text></g>
<g id="g_sdhB"><rect class="R" x="253" y="1243" width="45" height="24" rx="6"/><text class="gt tR" x="275" y="1261">sdhB</text></g>
<g id="g_frdC"><rect class="R" x="109" y="1268" width="46" height="25" rx="6"/><text class="gt tR" x="132" y="1286">frdC</text></g>
<g id="g_frdD"><rect class="R" x="157" y="1268" width="46" height="25" rx="6"/><text class="gt tR" x="180" y="1286">frdD</text></g>
<g id="g_sdhC"><rect class="Gy" x="205" y="1268" width="47" height="25" rx="6"/><text class="gt tr" x="228" y="1286">sdhC</text></g>
<g id="g_sdhD"><rect class="R" x="256" y="1273" width="40" height="15" rx="2"/><text class="gt tR" x="276" y="1286" font-size="16">sdhD</text></g>
<g id="g_glcD"><rect class="Gy" x="558" y="1250" width="45" height="23" rx="6"/><text class="gt tR" x="580" y="1267">glcD</text></g>
<g id="g_glcE"><rect class="R" x="611" y="1255" width="34" height="14" rx="2"/><text class="gt tR" x="628" y="1268" font-size="16">glcE</text></g>
<g id="g_glcF"><rect class="R" x="583" y="1275" width="46" height="23" rx="6"/><rect x="589" y="1279" width="34" height="15" fill="#f4f4f4"/><text class="gt tR" x="606" y="1292">glcF</text></g>
<g id="g_aldA3"><rect class="R" x="568" y="1315" width="46" height="25" rx="6"/><text class="gt tR" x="591" y="1333">aldA</text></g>
<g id="g_fucO2"><rect class="R" x="403" y="1375" width="45" height="25" rx="6"/><text class="gt tR" x="425" y="1393">fucO</text></g>
<g id="g_sucC"><rect class="R" x="225" y="1382" width="47" height="24" rx="6"/><text class="gt tR" x="248" y="1400">sucC</text></g>
<g id="g_sucD"><rect class="R" x="225" y="1407" width="47" height="25" rx="6"/><text class="gt tR" x="248" y="1425">sucD</text></g>
<g id="g_sucB"><rect class="R" x="337" y="1475" width="46" height="25" rx="6"/><text class="gt tR" x="360" y="1493">sucB</text></g>
<g id="g_sucA1"><rect class="R2" x="528" y="1475" width="47" height="25" rx="6"/><text class="gt tR" x="551" y="1493">sucA</text></g>
<g id="g_sucA2"><rect class="R2" x="652" y="1452" width="45" height="24" rx="6"/><text class="gt tR" x="674" y="1470">sucA</text></g>
<g id="g_lpd"><rect class="Gy" x="438" y="1553" width="45" height="24" rx="6"/><text class="gt tK" x="460" y="1571">lpd</text></g>
</g>
</svg>
